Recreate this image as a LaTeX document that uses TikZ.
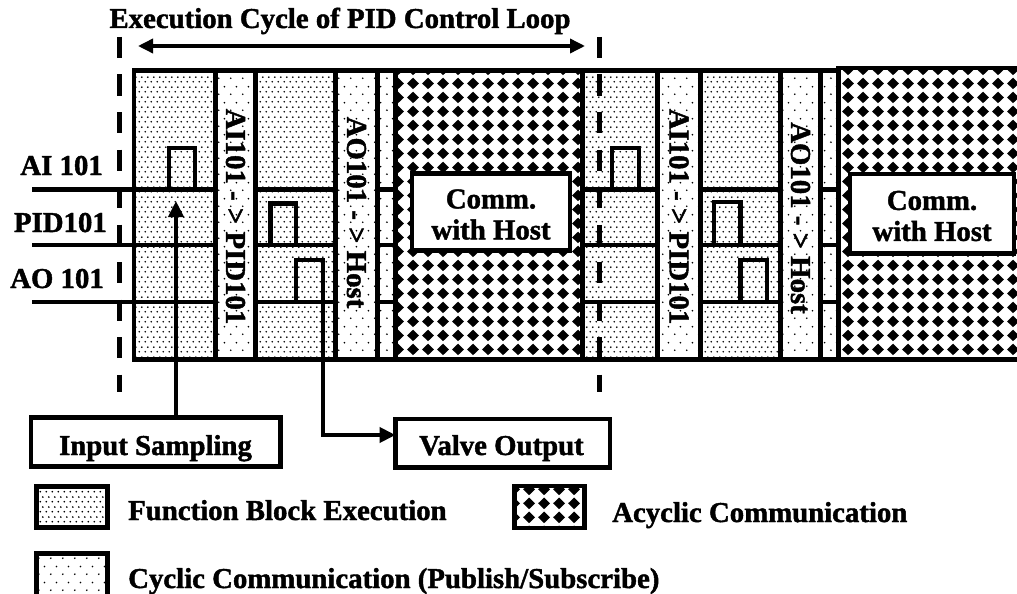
\documentclass[tikz,border=0pt]{standalone}
\usepackage{fontspec}
\setmainfont{Liberation Serif}[BoldFeatures={FakeBold=1.5}]
\usetikzlibrary{arrows.meta,patterns}

% dense dots: function block execution
\pgfdeclarepatternformonly{fbdots}{\pgfpointorigin}{\pgfpoint{5.5pt}{10pt}}{\pgfpoint{5.5pt}{10pt}}{%
  \pgfpathcircle{\pgfpoint{1.375pt}{2.5pt}}{1pt}%
  \pgfpathcircle{\pgfpoint{4.125pt}{7.5pt}}{1pt}%
  \pgfusepath{fill}}
% sparse dots: cyclic communication
\pgfdeclarepatternformonly{cycdots}{\pgfpointorigin}{\pgfpoint{12pt}{16pt}}{\pgfpoint{12pt}{16pt}}{%
  \pgfpathcircle{\pgfpoint{3pt}{4pt}}{0.95pt}%
  \pgfpathcircle{\pgfpoint{9pt}{12pt}}{0.95pt}%
  \pgfusepath{fill}}
% rounded diamond grid: acyclic communication
\pgfdeclarepatternformonly{acydiamonds}{\pgfpointorigin}{\pgfpoint{14.5pt}{14pt}}{\pgfpoint{14.5pt}{14pt}}{%
  \pgfpathmoveto{\pgfpoint{7.25pt}{0.9pt}}%
  \pgfpathlineto{\pgfpoint{13.35pt}{7pt}}%
  \pgfpathlineto{\pgfpoint{7.25pt}{13.1pt}}%
  \pgfpathlineto{\pgfpoint{1.15pt}{7pt}}%
  \pgfpathclose
  \pgfpathcircle{\pgfpoint{7.25pt}{7pt}}{4.4pt}%
  \pgfusepath{fill}}

\tikzset{
  txt/.style={font=\bfseries\fontsize{28.8}{31}\selectfont, inner sep=0pt},
  heavy/.style={line width=4.5pt},
  labelbox/.style={draw, line width=4.5pt, fill=white, outer sep=0pt, inner sep=0pt},
  swatch/.style={draw, line width=4.5pt, outer sep=0pt, inner sep=0pt},
  tip/.style={-{Triangle[length=16pt,width=15pt]}},
  dashline/.style={line width=4.5pt, dash pattern=on 21pt off 16.5pt},
}

\begin{document}
\begin{tikzpicture}[x=1pt,y=-1pt]
\useasboundingbox (0,0) rectangle (1017,594);
\clip (0,0) rectangle (1017,594);

% column fills
\foreach \a/\b in {134/215.5, 255.5/335.5, 582.5/657.5, 700.5/780.5}
  \fill[pattern=fbdots] (\a,70.5) rectangle (\b,359.5);
\foreach \a/\b in {215.5/255.5, 335.5/377.5, 377.5/395.5, 657.5/700.5, 780.5/820.5, 820.5/838.5}
  \fill[pattern=cycdots] (\a,70.5) rectangle (\b,359.5);
\fill[pattern=acydiamonds] (395.5,70.5) rectangle (582.5,359.5);
\fill[pattern=acydiamonds] (838.5,68) rectangle (1030,359.5);

% signal lines of the three blocks
\foreach \y in {189.5,245,302}
  \foreach \a/\b in {32/215.5, 255.5/335.5, 377.5/395.5, 582.5/657.5, 700.5/780.5, 820.5/838.5}
    \draw[heavy] (\a,\y) -- (\b,\y);

% frame and column separators
\draw[heavy] (134,70.5) rectangle (838.5,359.5);
\foreach \x in {215.5,255.5,335.5,377.5,395.5,582.5,657.5,700.5,780.5,820.5}
  \draw[heavy] (\x,70.5) -- (\x,359.5);
\draw[heavy] (1030,68) -- (838.5,68) -- (838.5,359.5) -- (1030,359.5);

% execution pulses
\draw[heavy] (169,189.5) |- (195,148) -- (195,189.5);
\draw[heavy] (270.5,245) |- (296,203.5) -- (296,245);
\draw[heavy] (296,302) |- (323,260) -- (323,302);
\draw[heavy] (612,189.5) |- (639,148) -- (639,189.5);
\draw[heavy] (714,245) |- (740.5,202) -- (740.5,245);
\draw[heavy] (740.5,302) |- (767,260) -- (767,302);

% host communication boxes
\node[labelbox, minimum width=158pt, minimum height=77pt] (comm1) at (491,212) {};
\node[txt, align=center] (comm1t) at (491,214.5) {Comm.\\with Host};
\node[labelbox, minimum width=164pt, minimum height=79.5pt] (comm2) at (932,213.75) {};
\node[txt, align=center] (comm2t) at (932,216) {Comm.\\with Host};

% publish/subscribe labels
\node[txt, rotate=-90] (pub1) at (235.5,216.5) {AI101 - > PID101};
\node[txt, rotate=-90] (pub2) at (356.5,212.5) {AO101 - > Host};
\node[txt, rotate=-90] (pub3) at (679,216.5) {AI101 - > PID101};
\node[txt, rotate=-90] (pub4) at (800.5,218) {AO101 - > Host};

% block names
\node[txt, anchor=base east] (lai) at (103,175) {AI 101};
\node[txt, anchor=base east] (lpid) at (107,232) {PID101};
\node[txt, anchor=base east] (lao) at (104,288) {AO 101};

% cycle boundaries and span
\node[txt, anchor=base] (title) at (340,28) {Execution Cycle of PID Control Loop};
\coordinate (cycA1) at (119.5,37);  \coordinate (cycA2) at (119.5,392);
\coordinate (cycB1) at (599.5,37);  \coordinate (cycB2) at (599.5,392);
\draw[dashline] (cycA1) -- (cycA2);
\draw[dashline] (cycB1) -- (cycB2);
\coordinate (spanL) at (138,46);
\coordinate (spanR) at (585,46);
\draw[line width=3.5pt, {Triangle[length=15pt,width=14pt]}-{Triangle[length=15pt,width=14pt]}] (spanL) -- (spanR);

% sampling and output boxes
\node[labelbox, minimum width=249.5pt, minimum height=49pt] (insamp) at (155.75,442) {};
\node[txt, anchor=base] (insampt) at (155.5,455) {Input Sampling};
\node[labelbox, minimum width=214.5pt, minimum height=48.5pt] (valve) at (502.75,443.25) {};
\node[txt, anchor=base] (valvet) at (501.5,455) {Valve Output};

\coordinate (aiTip) at (176,201);
\draw[heavy, tip] (insamp.north -| aiTip) -- (aiTip);
\coordinate (aoFoot) at (323,302);
\draw[heavy, tip] (aoFoot) |- ([yshift=8.25pt]valve.west);

% legend
\node[swatch, pattern=fbdots, minimum width=71pt, minimum height=41pt] (swfb) at (72,507) {};
\node[txt, anchor=base west] (lgfb) at (128,520) {Function Block Execution};
\node[swatch, pattern=cycdots, minimum width=71pt, minimum height=46.5pt] (swcyc) at (72,576.75) {};
\node[txt, anchor=base west] (lgcyc) at (128,588) {Cyclic Communication (Publish/Subscribe)};
\node[swatch, pattern=acydiamonds, minimum width=70pt, minimum height=42pt] (swacy) at (549.5,507) {};
\node[txt, anchor=base west] (lgacy) at (612,522) {Acyclic Communication};
\end{tikzpicture}
\end{document}
